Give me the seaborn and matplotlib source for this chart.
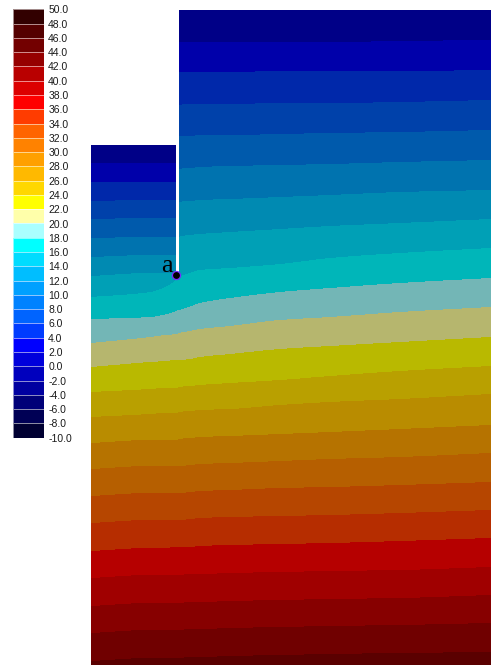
import numpy as np
import pandas as pd
import matplotlib
matplotlib.use("Agg")
import matplotlib.pyplot as plt
from matplotlib.colors import ListedColormap
from matplotlib.patches import Rectangle
import seaborn as sns

# ---------------- data ----------------
W, H = 493, 667

legend_values = [50.0, 48.0, 46.0, 44.0, 42.0, 40.0, 38.0, 36.0, 34.0, 32.0,
                 30.0, 28.0, 26.0, 24.0, 22.0, 20.0, 18.0, 16.0, 14.0, 12.0,
                 10.0, 8.0, 6.0, 4.0, 2.0, 0.0, -2.0, -4.0, -6.0, -8.0, -10.0]
legend_colors = ["#320000", "#550000", "#730000", "#960000", "#b90000",
                 "#dc0000", "#ff0000", "#ff3c00", "#ff6400", "#ff8200",
                 "#ffa000", "#ffb900", "#ffd700", "#ffff00", "#ffffaa",
                 "#aaffff", "#00ffff", "#00dcff", "#00beff", "#00a0ff",
                 "#0082ff", "#0064ff", "#003cff", "#0000ff", "#0000dc",
                 "#0000be", "#0000a0", "#000078", "#000055", "#000032"]

band_colors = ["#000087", "#0000aa", "#0028aa", "#0041aa", "#005aac",
               "#0073af", "#008ab2", "#00a0b6", "#00b6b9", "#73b6b6",
               "#b6b66e", "#b9b900", "#b9a000", "#b98c00", "#b67300",
               "#b65f00", "#b64600", "#b62d00", "#b60000", "#a00000",
               "#870000", "#700000", "#5a0000"]

# geometry of the section (pixel units)
domain_left, domain_right = 91, 491
domain_top, domain_bottom = 10, 665
step_x, step_depth = 176, 145
slot_x0, slot_x1, slot_tip = 176, 179, 272
point_a = (175.5, 275.0)

# depth of each band boundary (22 boundaries) at several stations along x
station_x = [91, 150, 165, 176, 179, 190, 200, 230, 280, 330, 400, 490]
iso_y_x091 = [163, 182, 201, 219, 238, 257, 276, 297, 319, 343, 367, 392, 417, 443, 469, 496, 523, 551, 578, 606, 633, 661]
iso_y_x150 = [163, 182, 200, 218, 237, 255, 273, 292, 317, 337, 362, 389, 414, 440, 466, 493, 520, 548, 575, 603, 630, 658]
iso_y_x165 = [163, 182, 200, 218, 237, 255, 273, 287, 314.5, 335, 361, 388, 413, 440, 466, 493, 520, 548, 575, 603, 630, 658]
iso_y_x176 = [163, 182, 200, 218, 237, 255, 273, 280, 311, 334, 360, 388, 413, 440, 466, 493, 520, 547, 575, 603, 630, 658]
iso_y_x179 = [42, 72, 105, 136, 169, 202, 237, 277, 310, 333, 360, 387, 412, 439, 466, 493, 520, 547, 575, 603, 630, 658]
iso_y_x190 = [42, 72, 104, 136, 168, 201, 235, 273, 306.5, 331, 359, 386, 411, 438, 465, 492, 519, 547, 574, 602, 629, 657]
iso_y_x200 = [42, 72, 104, 135, 167, 200, 234, 270, 303, 329, 357, 385, 410, 437, 464, 491, 518, 546, 574, 602, 629, 657]
iso_y_x230 = [42, 72, 104, 135, 166, 199, 232, 268, 298, 326, 354, 383, 409, 436, 463, 490, 517, 545, 573, 601, 628, 656]
iso_y_x280 = [42, 71, 103, 134, 165, 197, 229, 264, 292, 320, 349, 380, 405, 434, 461, 488, 516, 544, 572, 600, 627, 655]
iso_y_x330 = [42, 71, 103, 133, 164, 195, 226, 258, 288, 317, 346, 376, 402, 432, 459, 487, 515, 543, 571, 599, 626, 654]
iso_y_x400 = [41, 71, 102, 132, 162, 192, 223, 253, 283, 312, 342, 371, 399, 429, 457, 485, 513, 541, 570, 598, 625, 653]
iso_y_x490 = [40, 70, 100, 130, 160, 190, 219, 248, 278, 307, 337, 366, 394, 425, 453, 482, 510, 538, 567, 595, 623, 652]

stations = np.array([iso_y_x091, iso_y_x150, iso_y_x165, iso_y_x176,
                     iso_y_x179, iso_y_x190, iso_y_x200, iso_y_x230,
                     iso_y_x280, iso_y_x330, iso_y_x400, iso_y_x490], float)


def pchip(xk, yk, x):
    """Monotone piecewise-cubic curve through the read boundary points."""
    xk = np.asarray(xk, float)
    yk = np.asarray(yk, float)
    h = np.diff(xk)
    d = np.diff(yk) / h
    m = np.zeros_like(yk)
    m[0], m[-1] = d[0], d[-1]
    for k in range(1, len(xk) - 1):
        if d[k - 1] * d[k] > 0:
            w1 = 2 * h[k] + h[k - 1]
            w2 = h[k] + 2 * h[k - 1]
            m[k] = (w1 + w2) / (w1 / d[k - 1] + w2 / d[k])
    i = np.clip(np.searchsorted(xk, x) - 1, 0, len(xk) - 2)
    t = (x - xk[i]) / h[i]
    h00 = 2 * t**3 - 3 * t**2 + 1
    h10 = t**3 - 2 * t**2 + t
    h01 = -2 * t**3 + 3 * t**2
    h11 = t**3 - t**2
    return h00 * yk[i] + h10 * h[i] * m[i] + h01 * yk[i + 1] + h11 * h[i] * m[i + 1]


# ---------------- field ----------------
xc = np.arange(domain_left, domain_right) + 0.5
yc = np.arange(domain_top, domain_bottom) + 0.5
yb = np.array([pchip(station_x, stations[:, k], xc)
               for k in range(stations.shape[1])])          # (22, ncol)
band = (yc[None, :, None] >= yb[:, None, :]).sum(axis=0)     # (nrow, ncol)
mask = (xc[None, :] < step_x) & (yc[:, None] < step_depth)
field = pd.DataFrame(band)

# ---------------- plot ----------------
sns.set_theme(style="white")
plt.rcParams['font.family'] = ['Liberation Sans', 'DejaVu Sans']

fig = plt.figure(figsize=(W / 100, H / 100), dpi=100)
fig.patch.set_facecolor("white")

ax = fig.add_axes([domain_left / W, (H - domain_bottom) / H,
                   (domain_right - domain_left) / W,
                   (domain_bottom - domain_top) / H])
sns.heatmap(field, mask=mask, cmap=ListedColormap(band_colors),
            vmin=-0.5, vmax=len(band_colors) - 0.5, cbar=False,
            xticklabels=False, yticklabels=False, ax=ax)
ax.set_facecolor("white")
ax.set_xlabel("")
ax.set_ylabel("")


def px(x, y):
    return x - domain_left, y - domain_top


sx, sy = px(slot_x0, domain_top)
ax.add_patch(Rectangle((sx, sy), slot_x1 - slot_x0, slot_tip - domain_top,
                       facecolor="white", edgecolor="none", zorder=3))
axp, ayp = px(*point_a)
ax.scatter([axp], [ayp], s=34, facecolor="black", edgecolor="#7a2cff",
           linewidth=0.9, zorder=4)
tx, ty = px(172.5, 272)
ax.text(tx, ty, "a", family=['Liberation Serif', 'DejaVu Serif'], fontsize=19,
        ha="right", va="baseline", color="black", zorder=5)
for s in ax.spines.values():
    s.set_visible(False)

# colour legend
cax = fig.add_axes([12.5 / W, (H - 438) / H, 31.5 / W, 429 / H])
sns.heatmap(np.arange(len(legend_colors)).reshape(-1, 1),
            cmap=ListedColormap(legend_colors), vmin=-0.5,
            vmax=len(legend_colors) - 0.5, cbar=False,
            linewidths=0.6, linecolor=(1, 1, 1, 0.55),
            xticklabels=False, yticklabels=False, ax=cax)
cax.set_xticks([])
cax.set_yticks(np.arange(len(legend_values)))
cax.set_yticklabels([f"{v:.1f}" for v in legend_values])
cax.yaxis.tick_right()
cax.tick_params(axis="y", length=0, pad=3, labelsize=7.5, colors="#1a1a1a")
cax.set_ylim(len(legend_colors) + 0.02, -0.02)
for s in cax.spines.values():
    s.set_visible(False)

fig.savefig("out.png", dpi=100, facecolor="white")
